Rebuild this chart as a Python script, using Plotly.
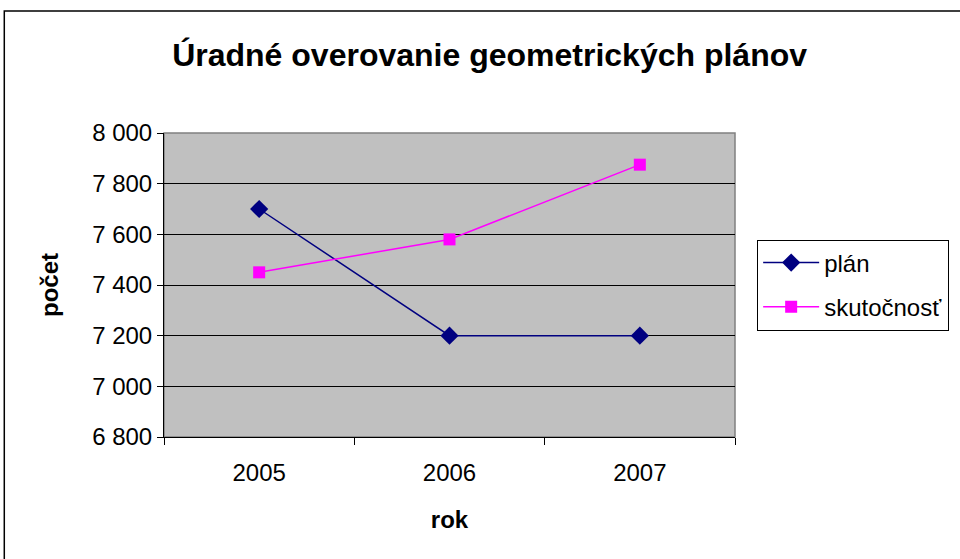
import plotly.graph_objects as go

years = ["2005", "2006", "2007"]
plan = [7700, 7200, 7200]
skutocnost = [7450, 7580, 7875]

title_text = "Úradné overovanie geometrických plánov"
x_title = "rok"
y_title = "počet"

fig = go.Figure()
fig.add_trace(go.Scatter(
    x=years, y=plan, name="plán", mode="lines+markers", legendgroup="a",
    line=dict(color="#000080", width=1.5),
    marker=dict(symbol="diamond", size=14, color="#000080"),
))
fig.add_trace(go.Scatter(
    x=years, y=skutocnost, name="skutočnosť", mode="lines+markers", legendgroup="b",
    line=dict(color="#FF00FF", width=1.5),
    marker=dict(symbol="square", size=12, color="#FF00FF"),
))

font_family = "Liberation Sans, Arial, sans-serif"

fig.update_layout(
    width=960, height=559,
    margin=dict(l=164, r=224, t=133, b=122),
    paper_bgcolor="white",
    plot_bgcolor="#C0C0C0",
    separators=", ",
    font=dict(family=font_family, size=24, color="black"),
    title=dict(text="<b>" + title_text + "</b>", x=0.51, xanchor="center",
               y=0.902, yanchor="middle", font=dict(size=32, color="black")),
    showlegend=True,
    legend=dict(x=1.037, xanchor="left", y=0.5, yanchor="middle",
                bordercolor="black", borderwidth=1, bgcolor="white",
                font=dict(size=24), itemwidth=56, tracegroupgap=10),
    xaxis=dict(
        type="category", range=[-0.5, 2.5],
        tickson="boundaries", ticks="outside", ticklen=7, tickcolor="black",
        showline=True, linecolor="black", linewidth=1,
        showgrid=False, zeroline=False,
        tickfont=dict(size=24), ticklabelstandoff=14,
        title=dict(text="<b>" + x_title + "</b>", font=dict(size=24), standoff=26),
    ),
    yaxis=dict(
        range=[6800, 8000], dtick=200, tickformat=",d",
        ticks="outside", ticklen=6, tickcolor="black",
        showline=True, linecolor="black", linewidth=1,
        showgrid=True, gridcolor="black", gridwidth=1,
        zeroline=False, tickfont=dict(size=24),
        title=dict(text="<b>" + y_title + "</b>", font=dict(size=24), standoff=26),
    ),
    shapes=[
        dict(type="rect", xref="paper", yref="paper", x0=0, x1=1, y0=0, y1=1,
             line=dict(color="#808080", width=1.5), layer="below"),
        dict(type="rect", xref="paper", yref="paper", x0=-0.2797, x1=1.6, y0=-0.6, y1=1.401,
             line=dict(color="black", width=1.5), layer="below"),
    ],
)

fig.write_html("out.html", config={"displayModeBar": False},
               post_script="document.body.style.margin='0';")
